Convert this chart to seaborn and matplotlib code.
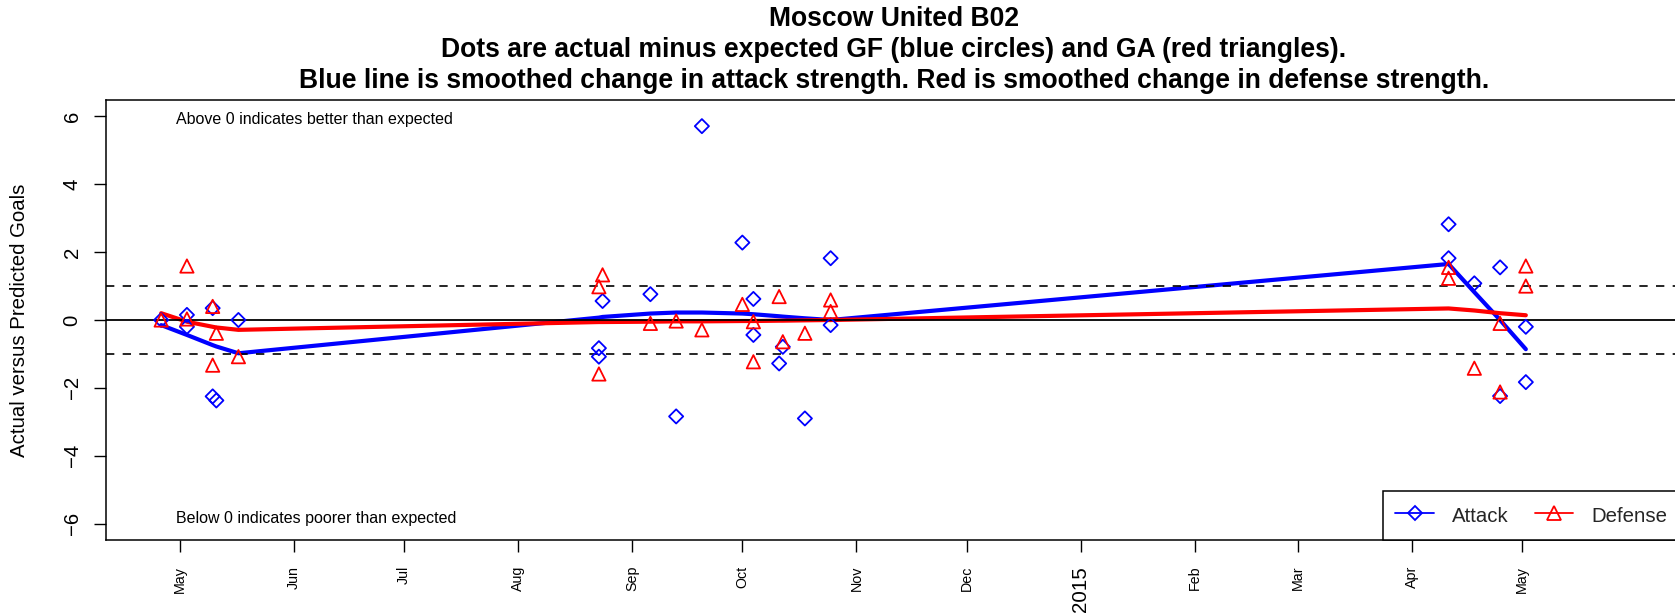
import numpy as np
import pandas as pd
import matplotlib
matplotlib.use("Agg")
import matplotlib.pyplot as plt
import seaborn as sns
from matplotlib.lines import Line2D

# ---------------- data ----------------
team_name = "Moscow United B02"

game_dates = ["2014-04-26", "2014-05-03", "2014-05-03", "2014-05-10", "2014-05-10",
              "2014-05-11", "2014-05-17", "2014-08-23", "2014-08-23", "2014-08-24",
              "2014-09-06", "2014-09-13", "2014-09-20", "2014-10-01", "2014-10-04",
              "2014-10-04", "2014-10-11", "2014-10-12", "2014-10-18", "2014-10-25",
              "2014-10-25", "2015-04-11", "2015-04-11", "2015-04-18", "2015-04-25",
              "2015-04-25", "2015-05-02", "2015-05-02"]
attack_resid = [0.0, 0.15, -0.2, 0.35, -2.25, -2.37, 0.0, -0.83, -1.08, 0.56,
                0.76, -2.84, 5.71, 2.28, 0.62, -0.44, -1.28, -0.79, -2.9, 1.82,
                -0.15, 2.82, 1.82, 1.08, 1.55, -2.24, -0.2, -1.83]
defense_resid = [0.0, 1.59, 0.03, 0.4, -1.33, -0.39, -1.08, 0.98, -1.59, 1.33,
                 -0.1, -0.03, -0.29, 0.46, -0.05, -1.23, 0.69, -0.64, -0.39, 0.59,
                 0.25, 1.55, 1.23, -1.42, -0.1, -2.12, 1.59, 1.0]

smooth_dates = ["2014-04-26", "2014-05-03", "2014-05-10", "2014-05-11", "2014-05-17",
                "2014-08-23", "2014-08-24", "2014-09-06", "2014-09-13", "2014-09-20",
                "2014-10-01", "2014-10-04", "2014-10-11", "2014-10-12", "2014-10-18",
                "2014-10-25", "2015-04-11", "2015-04-18", "2015-04-25", "2015-05-02"]
attack_smooth = [-0.15, -0.44, -0.74, -0.78, -0.98, 0.07, 0.09, 0.19, 0.22, 0.22,
                 0.19, 0.17, 0.11, 0.10, 0.05, 0.0, 1.65, 0.82, 0.0, -0.86]
defense_smooth = [0.2, -0.05, -0.2, -0.22, -0.29, -0.06, -0.06, -0.05, -0.04, -0.04,
                  -0.03, -0.03, -0.02, -0.02, -0.01, 0.0, 0.34, 0.28, 0.2, 0.14]

tick_dates = ["2014-05-01", "2014-06-01", "2014-07-01", "2014-08-01", "2014-09-01",
              "2014-10-01", "2014-11-01", "2014-12-01", "2015-01-01", "2015-02-01",
              "2015-03-01", "2015-04-01", "2015-05-01"]
tick_labels = ["May", "Jun", "Jul", "Aug", "Sep", "Oct", "Nov", "Dec", "2015",
               "Feb", "Mar", "Apr", "May"]
y_ticks = [-6, -4, -2, 0, 2, 4, 6]
y_tick_labels = ["\u22126", "\u22124", "\u22122", "0", "2", "4", "6"]

title_lines = [team_name,
               "Dots are actual minus expected GF (blue circles) and GA (red triangles).",
               "Blue line is smoothed change in attack strength. Red is smoothed change in defense strength."]

# ---------------- frames ----------------
games = pd.DataFrame({"date": pd.to_datetime(game_dates),
                      "attack": attack_resid, "defense": defense_resid})
smooth = pd.DataFrame({"date": pd.to_datetime(smooth_dates),
                       "attack": attack_smooth, "defense": defense_smooth})

# ---------------- style ----------------
sns.set_style("ticks")
plt.rcParams['font.family'] = ['Liberation Sans', 'DejaVu Sans']

W, H = 1675, 616
fig = plt.figure(figsize=(W / 100, H / 100), dpi=100)
ax = fig.add_axes([106 / W, 1 - 540 / H, (1684 - 106) / W, (540 - 100) / H])

# smoothed lines
sns.lineplot(data=smooth, x="date", y="attack", color="blue", lw=3,
             estimator=None, sort=False, ax=ax, zorder=2)
sns.lineplot(data=smooth, x="date", y="defense", color="red", lw=3,
             estimator=None, sort=False, ax=ax, zorder=2)

# reference lines
ax.axhline(0, color="black", lw=1.3, zorder=2.5)
for yv in (1, -1):
    ax.axhline(yv, color="black", lw=1.2, ls=(0, (5, 5)), zorder=2.5)

# points
sns.scatterplot(data=games, x="date", y="attack", marker="D", s=52, ax=ax, zorder=4)
c = ax.collections[-1]
c.set_facecolor("none"); c.set_edgecolor("blue"); c.set_linewidth(1.3)
sns.scatterplot(data=games, x="date", y="defense", marker="^", s=92, ax=ax, zorder=4)
c = ax.collections[-1]
c.set_facecolor("none"); c.set_edgecolor("red"); c.set_linewidth(1.3)

# axes limits & ticks
ax.set_xlim(pd.Timestamp("2014-04-11"), pd.Timestamp("2015-06-14"))
ax.set_ylim(-6.48, 6.48)
ax.set_xticks(pd.to_datetime(tick_dates))
ax.set_xticklabels(tick_labels, rotation=90)
for lab in ax.get_xticklabels():
    lab.set_fontsize(14.8 if lab.get_text().isdigit() else 10.3)
ax.set_yticks(y_ticks)
ax.set_yticklabels(y_tick_labels, rotation=90, va="center", fontsize=14.7)
ax.tick_params(axis="x", direction="out", length=8.6, width=1, color="black", pad=10,
               labelcolor="black")
ax.tick_params(axis="y", direction="out", length=8.6, width=1, color="black", pad=9,
               labelcolor="black")
ax.set_xlabel("")
ax.set_ylabel("Actual versus Predicted Goals", fontsize=14.7, color="black")
ax.yaxis.set_label_coords((29 - 106) / (1684 - 106), 0.5)

for s in ax.spines.values():
    s.set_visible(True)
    s.set_color("black")
    s.set_linewidth(1.1)

# annotations
ax.text(pd.Timestamp("2014-04-30"), 5.9, "Above 0 indicates better than expected",
        ha="left", va="center", fontsize=11.5, color="black")
ax.text(pd.Timestamp("2014-04-30"), -5.86, "Below 0 indicates poorer than expected",
        ha="left", va="center", fontsize=11.5, color="black")

# legend
handles = [Line2D([], [], color="blue", lw=1.3, marker="D", markersize=7,
                  markerfacecolor="none", markeredgecolor="blue", markeredgewidth=1.3),
           Line2D([], [], color="red", lw=1.3, marker="^", markersize=9.5,
                  markerfacecolor="none", markeredgecolor="red", markeredgewidth=1.3)]
leg = ax.legend(handles, ["Attack", "Defense"], ncol=2, loc="lower left",
                bbox_to_anchor=(1383 / W, 1 - 540 / H), bbox_transform=fig.transFigure,
                borderaxespad=0, fontsize=14.7, handlelength=1.9, handletextpad=0.9,
                handleheight=1.45, columnspacing=1.25, borderpad=0.6, fancybox=False,
                framealpha=1, edgecolor="black")
leg.get_frame().set_linewidth(1.1)

# title
for i, line in enumerate(title_lines):
    fig.text(894 / W, 1 - (19.5 + 30.5 * i) / H, line, ha="center", va="center",
             fontsize=19.1, fontweight="bold", color="black")

fig.savefig("out.png", dpi=100)
